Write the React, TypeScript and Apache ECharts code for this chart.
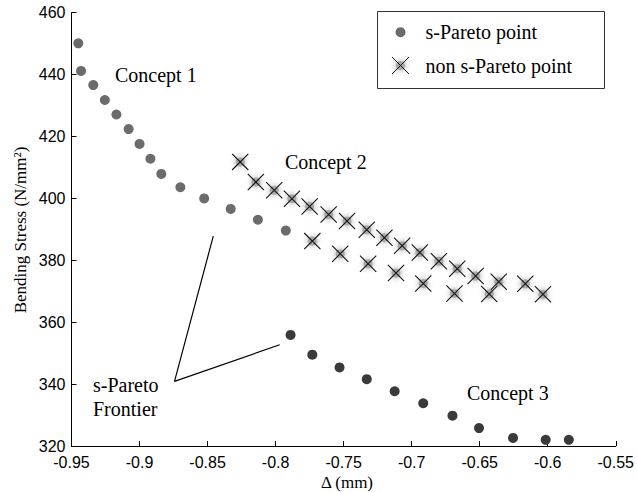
import React, { useEffect, useRef } from "react";
import * as echarts from "echarts";

const xTicks = { min: -0.95, max: -0.55, interval: 0.05 };
const yTicks = { min: 320, max: 460, interval: 20 };

const conceptOneX = [-0.945, -0.943, -0.934, -0.9255, -0.917, -0.908, -0.9, -0.892, -0.884, -0.87, -0.8525, -0.833, -0.813, -0.7925];
const conceptOneY = [450.1, 441.2, 436.6, 431.8, 427.1, 422.4, 417.6, 412.8, 407.9, 403.6, 400.0, 396.6, 393.1, 389.6];

const conceptThreeX = [-0.789, -0.773, -0.753, -0.733, -0.7125, -0.6915, -0.67, -0.6505, -0.6255, -0.6015, -0.5845];
const conceptThreeY = [355.9, 349.5, 345.4, 341.6, 337.7, 333.8, 329.8, 325.8, 322.6, 322.0, 322.0];

const nonParetoUpperX = [-0.826, -0.8145, -0.801, -0.788, -0.775, -0.761, -0.7475, -0.733, -0.72, -0.707, -0.694, -0.68, -0.6665, -0.653, -0.636, -0.6165];
const nonParetoUpperY = [411.8, 405.3, 402.6, 399.9, 397.4, 394.8, 392.7, 389.9, 387.3, 384.7, 382.5, 379.7, 377.3, 374.9, 373.1, 372.4];
const nonParetoLowerX = [-0.773, -0.7525, -0.732, -0.7115, -0.6915, -0.6685, -0.643, -0.6035];
const nonParetoLowerY = [386.2, 382.1, 378.9, 375.9, 372.5, 369.3, 369.1, 369.0];

const frontierPointerX = [-0.8458, -0.8743, -0.797];
const frontierPointerY = [387.8, 340.9, 352.7];

const legendNames = ["s-Pareto point", "non s-Pareto point"];
const annotations = ["Concept 1", "Concept 2", "Concept 3", "s-Pareto", "Frontier"];
const axisTitles = ["Δ (mm)", "Bending Stress (N/mm²)"];

const zip = (xs: number[], ys: number[]) => xs.map((x, i) => [x, ys[i]]);

const SERIF = "Liberation Serif";
const SANS = "Liberation Sans";
const CROSS = "path://M0,0.45 L0.45,0 L10,9.55 L9.55,10 Z M9.55,0 L10,0.45 L0.45,10 L0,9.55 Z";

export default function App() {
  const ref = useRef<HTMLDivElement>(null);
  useEffect(() => {
    if (!ref.current) return;
    const chart = echarts.init(ref.current, null, { renderer: "svg" });
    const nonPareto = [...zip(nonParetoUpperX, nonParetoUpperY), ...zip(nonParetoLowerX, nonParetoLowerY)];
    const textStyle = (text: string, size = 20) => ({ text, fontFamily: SERIF, fontSize: size, fill: "#000", verticalAlign: "middle" });
    chart.setOption({
      animation: false,
      backgroundColor: "#fff",
      textStyle: { fontFamily: SERIF, color: "#000" },
      grid: { left: 71.5, right: 14.3, top: 12.7, bottom: 46 },
      xAxis: {
        type: "value",
        min: xTicks.min,
        max: xTicks.max,
        interval: xTicks.interval,
        axisLine: { show: true, lineStyle: { color: "#000", width: 1 } },
        axisTick: { show: true, inside: true, length: 5, lineStyle: { color: "#000" } },
        axisLabel: { color: "#000", fontFamily: SANS, fontSize: 16, margin: 8 },
        splitLine: { show: false },
      },
      yAxis: {
        type: "value",
        min: yTicks.min,
        max: yTicks.max,
        interval: yTicks.interval,
        axisLine: { show: true, lineStyle: { color: "#000", width: 1 } },
        axisTick: { show: true, inside: true, length: 5, lineStyle: { color: "#000" } },
        axisLabel: { color: "#000", fontFamily: SANS, fontSize: 16, margin: 6 },
        splitLine: { show: false },
      },
      series: [
        {
          name: "frontier pointer",
          type: "line",
          data: zip(frontierPointerX, frontierPointerY),
          symbol: "none",
          lineStyle: { color: "#000", width: 1.2 },
          silent: true,
        },
        {
          name: "non s-Pareto shade",
          type: "scatter",
          data: nonPareto,
          symbol: "circle",
          symbolSize: 9,
          itemStyle: { color: "#a8a8a8", opacity: 1, shadowBlur: 6, shadowColor: "#999" },
        },
        {
          name: legendNames[1],
          type: "scatter",
          data: nonPareto,
          symbol: CROSS,
          symbolSize: 17,
          itemStyle: { color: "#111", opacity: 1 },
        },
        {
          name: legendNames[0],
          type: "scatter",
          data: zip(conceptOneX, conceptOneY),
          symbol: "circle",
          symbolSize: 10,
          itemStyle: { color: "#6b6b6b", opacity: 1 },
        },
        {
          name: "s-Pareto point (Concept 3)",
          type: "scatter",
          data: zip(conceptThreeX, conceptThreeY),
          symbol: "circle",
          symbolSize: 10,
          itemStyle: { color: "#3a3a3a", opacity: 1 },
        },
      ],
      graphic: [
        { type: "text", x: 347, y: 482, style: { ...textStyle(axisTitles[0], 17), align: "center" } },
        { type: "text", x: 20, y: 230, rotation: Math.PI / 2, style: { ...textStyle(axisTitles[1], 17), align: "center" } },
        { type: "text", left: 115, top: 65, style: textStyle(annotations[0]) },
        { type: "text", left: 285, top: 152, style: textStyle(annotations[1]) },
        { type: "text", left: 467, top: 383, style: textStyle(annotations[2]) },
        { type: "text", left: 93, top: 375, style: textStyle(annotations[3]) },
        { type: "text", left: 93, top: 399, style: textStyle(annotations[4]) },
        {
          type: "group",
          left: 377,
          top: 11,
          children: [
            { type: "rect", shape: { x: 0, y: 0, width: 227, height: 77 }, style: { fill: "#fff", stroke: "#333", lineWidth: 1 } },
            { type: "circle", shape: { cx: 23, cy: 20.7, r: 5 }, style: { fill: "#6b6b6b" } },
            { type: "circle", shape: { cx: 23, cy: 54, r: 4.5 }, style: { fill: "#a8a8a8", shadowBlur: 6, shadowColor: "#999" } },
            { type: "line", shape: { x1: 14.5, y1: 45.5, x2: 31.5, y2: 62.5 }, style: { stroke: "#111", lineWidth: 1 } },
            { type: "line", shape: { x1: 31.5, y1: 45.5, x2: 14.5, y2: 62.5 }, style: { stroke: "#111", lineWidth: 1 } },
            { type: "text", x: 48, y: 20.7, style: textStyle(legendNames[0]) },
            { type: "text", x: 48, y: 54, style: textStyle(legendNames[1]) },
          ],
        },
      ],
    });
    return () => chart.dispose();
  }, []);
  return <div ref={ref} style={{ width: 637, height: 492, position: "absolute", left: 0, top: 0 }} />;
}
